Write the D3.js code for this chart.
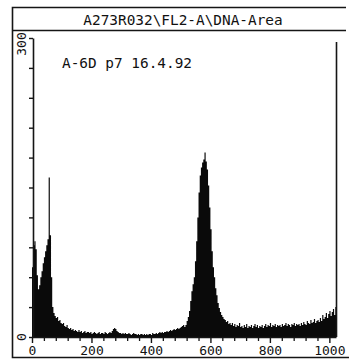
<!DOCTYPE html>
<html><head><meta charset="utf-8">
<script src="https://cdn.jsdelivr.net/npm/d3@7"></script>
<style>
html,body{margin:0;padding:0;background:#fff;}
svg{display:block;}
text{font-family:"DejaVu Sans Mono","Liberation Mono",monospace;fill:#111;}
</style></head>
<body>
<script>
// ---- data ----
const title = "A273R032\\FL2-A\\DNA-Area";
const annotation = "A-6D p7 16.4.92";
const binWidthCh = 4;            // channels per bin
const channelMax = 1024;
// counts per 4-channel bin (256 bins, channel 0..1023)
const counts0 = [70,92,96,88,62,48,52,60,66,74,80,86,92,98,160,102];
const counts1 = [60,30,24,21,19,20,16,17,14,13,14,11,10,12,9,8];
const counts2 = [9,7,8,6,7,6,5,7,5,6,4,5,6,4,5,5];
const counts3 = [4,5,3,4,5,4,3,4,5,3,4,4,3,5,4,3];
const counts4 = [4,5,4,6,8,9,8,6,5,4,4,3,4,3,4,3];
const counts5 = [3,4,3,2,3,4,3,3,2,3,2,3,3,2,3,2];
const counts6 = [3,2,3,3,2,4,3,3,4,3,4,5,4,5,4,5];
const counts7 = [5,6,5,6,7,6,7,8,7,8,9,8,9,10,11,12];
const counts8 = [10,12,16,20,26,36,46,53,60,76,96,120,145,162,170,175];
const counts9 = [178,185,176,168,152,130,108,86,70,60,49,42,34,29,25,22];
const counts10 = [20,18,17,15,16,13,14,12,14,11,13,10,12,11,14,10];
const counts11 = [11,9,12,10,13,9,11,10,12,9,11,13,10,12,9,11];
const counts12 = [10,12,9,11,13,10,12,11,14,10,12,11,13,10,12,11];
const counts13 = [12,10,13,11,12,14,11,13,12,10,13,12,14,11,13,12];
const counts14 = [13,11,14,12,15,13,12,16,14,13,17,14,15,18,14,16];
const counts15 = [17,15,19,16,22,18,20,24,19,23,26,21,25,28,22,30];
const xTickLabels = [0,200,400,600,800,1000];
const yTickLabels = [0,300];
const yMax = 300;
const yMinorStep = 30;
const xMinorStep = 40;

const counts = [].concat(counts0,counts1,counts2,counts3,counts4,counts5,counts6,counts7,
  counts8,counts9,counts10,counts11,counts12,counts13,counts14,counts15);

// ---- layout ----
const W = 349, H = 360;
const svg = d3.select("body").append("svg").attr("width",W).attr("height",H);
const x = d3.scaleLinear().domain([0,channelMax]).range([32,336.5]);
const y = d3.scaleLinear().domain([0,yMax]).range([337,38]);

const ink = "#151515";

// outer frame
svg.append("path")
  .attr("d","M346,7.5 H12.5 V357.5 H349 M12.5,30.5 H346")
  .attr("fill","none").attr("stroke",ink).attr("stroke-width",1.6);

svg.append("text").attr("x",183).attr("y",25)
  .attr("text-anchor","middle").style("font-size","14.4px").text(title);

// histogram
const pts = counts.map((c,i)=>({ch:i*binWidthCh, c}));
pts.push({ch:channelMax, c:counts[counts.length-1]});
const area = d3.area().x(d=>x(d.ch)).y0(y(0)).y1(d=>y(d.c)).curve(d3.curveStepAfter);
svg.append("path").datum(pts).attr("d",area).attr("fill","#0a0a0a");

// right frame line of plot
svg.append("line").attr("x1",336.5).attr("x2",336.5).attr("y1",42).attr("y2",y(0))
  .attr("stroke",ink).attr("stroke-width",1.6);

// x axis
const xMinor = d3.range(0,channelMax,xMinorStep).filter(v=>v%200!==0);
const gx = svg.append("g").attr("transform",`translate(0,${y(0)})`);
gx.call(d3.axisBottom(x).tickValues(xTickLabels).tickSizeInner(6).tickSizeOuter(0).tickPadding(3)
  .tickFormat(d3.format("d")));
gx.select(".domain").attr("stroke",ink).attr("stroke-width",1.6).attr("d",`M${x(0)},0.5H${x(channelMax)}`);
gx.selectAll(".tick line").attr("stroke",ink).attr("stroke-width",1.4);
gx.selectAll(".tick text").style("font-size","13px").attr("fill",ink).attr("font-family",null);
const gxm = svg.append("g").attr("transform",`translate(0,${y(0)})`);
gxm.call(d3.axisBottom(x).tickValues(xMinor).tickSizeInner(4).tickSizeOuter(0).tickFormat(""));
gxm.select(".domain").remove();
gxm.selectAll(".tick line").attr("stroke",ink).attr("stroke-width",1.3);

// y axis
const yMinor = d3.range(0,yMax+1,yMinorStep);
const gy = svg.append("g").attr("transform",`translate(33,0)`);
gy.call(d3.axisLeft(y).tickValues(yMinor).tickSizeInner(4).tickSizeOuter(0).tickFormat(""));
gy.select(".domain").attr("stroke",ink).attr("stroke-width",1.6);
gy.selectAll(".tick line").attr("stroke",ink).attr("stroke-width",1.4);
yTickLabels.forEach(v=>{
  svg.append("text")
    .attr("transform",`translate(26,${y(v)+(v===0?0:6)}) rotate(-90)`)
    .attr("text-anchor","middle")
    .style("font-size","13px").attr("fill",ink).text(v);
});

// annotation
svg.append("text").attr("x",62).attr("y",68).style("font-size","14.4px").text(annotation);
</script>
</body></html>
